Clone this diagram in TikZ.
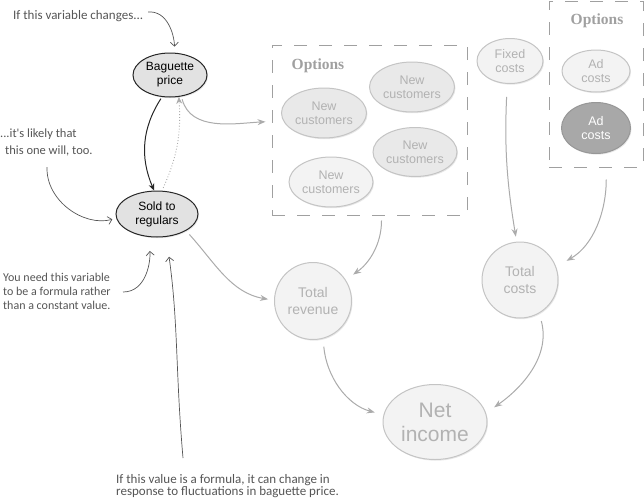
\documentclass[tikz,border=0pt]{standalone}
\usepackage{fontspec}
\setmainfont{Liberation Sans}
\newfontfamily\handfont{Carlito}
\newfontfamily\optfont{Liberation Serif}
\usetikzlibrary{shapes.geometric,arrows.meta,shadows}
\definecolor{nodefill}{HTML}{E9E9E9}
\definecolor{lightfill}{HTML}{F3F3F3}
\definecolor{nodeborder}{HTML}{C4C4C4}
\definecolor{nodetext}{HTML}{B2B2B2}
\definecolor{darkfill}{HTML}{A8A8A8}
\definecolor{mainfill}{HTML}{E2E2E2}
\definecolor{arrowgray}{HTML}{ABABAB}
\definecolor{notegray}{HTML}{555555}
\definecolor{boxgray}{HTML}{A0A0A0}
\begin{document}
\begin{tikzpicture}[x=1pt,y=-1pt,
  softshadow/.style={drop shadow={opacity=0.18, shadow xshift=1pt, shadow yshift=-1.2pt}},
  mainnode/.style={ellipse, draw=black!85, line width=1pt, fill=mainfill, inner sep=0pt,
    align=center, font=\fontsize{12}{14}\selectfont, softshadow},
  graynode/.style={ellipse, draw=nodeborder, line width=1pt, fill=nodefill, text=nodetext, inner sep=0pt,
    align=center, font=\fontsize{12.5}{14}\selectfont, softshadow},
  lightnode/.style={ellipse, draw=nodeborder, line width=1pt, fill=lightfill, text=nodetext, inner sep=0pt,
    align=center, font=\fontsize{12.5}{14}\selectfont, softshadow},
  darknode/.style={ellipse, draw=darkfill!90!black, line width=1pt, fill=darkfill, text=white, inner sep=0pt,
    align=center, font=\fontsize{12.5}{14}\selectfont, softshadow},
  optbox/.style={draw=boxgray, line width=1pt, dash pattern=on 13pt off 12pt, inner sep=0pt},
  optlabel/.style={text=boxgray, font=\optfont\bfseries\fontsize{15.5}{18}\selectfont},
  graylink/.style={draw=arrowgray, line width=1pt, -{Stealth[length=8pt,width=6pt]}},
  notelink/.style={draw=notegray, line width=0.7pt, -{Straight Barb[length=4pt,width=8pt]}},
  note/.style={text=notegray, font=\handfont\fontsize{13}{14}\selectfont, align=left, inner sep=0pt}
]
\useasboundingbox (0,0) rectangle (644,501);

% main nodes
\node[mainnode, minimum width=74pt, minimum height=44pt] (bag) at (170,75) {Baguette\\price};
\node[mainnode, minimum width=82pt, minimum height=46pt] (sold) at (157,214) {Sold to\\regulars};

% options box 1
\node[optbox, minimum width=195pt, minimum height=170pt] (box1) at (369.5,130) {};
\node[optlabel] (opt1) at (318,66) {Options};
\node[graynode, minimum width=85pt, minimum height=50pt] (nc1) at (324,113) {New\\customers};
\node[graynode, minimum width=85pt, minimum height=50pt] (nc2) at (412,87) {New\\customers};
\node[graynode, minimum width=84pt, minimum height=49pt] (nc3) at (415,152) {New\\customers};
\node[lightnode, minimum width=84pt, minimum height=50pt] (nc4) at (331,182) {New\\customers};

% fixed costs and options box 2
\node[lightnode, minimum width=66pt, minimum height=45pt] (fixed) at (510,61) {Fixed\\costs};
\node[optbox, minimum width=94pt, minimum height=166pt] (box2) at (596,84) {};
\node[optlabel] (opt2) at (597,21) {Options};
\node[lightnode, minimum width=68pt, minimum height=42pt] (ad1) at (596,71) {Ad\\costs};
\node[darknode, minimum width=69pt, minimum height=51pt] (ad2) at (596,128) {Ad\\costs};

% totals
\node[lightnode, circle, minimum size=77pt, font=\fontsize{14}{17}\selectfont] (rev) at (313,301) {Total\\revenue};
\node[lightnode, circle, minimum size=76pt, font=\fontsize{14}{17}\selectfont] (tc) at (520,280) {Total\\costs};
\node[lightnode, minimum width=104pt, minimum height=75pt, font=\fontsize{21}{24}\selectfont] (net) at (435,422) {Net\\income};

% connectors between main nodes
\draw[draw=black!85, line width=1pt, -{Stealth[length=7pt,width=6pt]}, shorten <=2pt]
  (bag.250) to[bend right=28] (sold.97);
\draw[draw=arrowgray, line width=0.9pt, dotted, -{Stealth[length=7pt,width=6pt]}, shorten <=3pt]
  (sold.78) to[bend right=14] (bag.292);

% gray links
\draw[graylink, shorten <=3pt, shorten >=6pt] (bag.298) to[out=-75, in=183] (box1.175);
\draw[graylink, shorten <=5pt, shorten >=9pt] (box1.-82) to[out=-90, in=35] (rev.33);
\draw[graylink, shorten <=5pt, shorten >=6pt] (sold.-30) to[out=-48, in=170] (rev.179);
\draw[graylink, shorten <=13pt, shorten >=5pt] (fixed.-97) to[bend right=6] (tc.95);
\draw[graylink, shorten <=12pt, shorten >=12pt] (box2.-83) to[out=-90, in=30] (tc.20);
\draw[graylink, shorten <=8pt, shorten >=9pt] (rev.-75) to[out=-85, in=165] (net.172);
\draw[graylink, shorten <=8pt, shorten >=10pt] (tc.-60) to[out=-75, in=35] (net.10);

% annotations
\node[note, anchor=west] (n1) at (13,16) {If this variable changes...};
\coordinate (n1e) at (148,12);
\draw[notelink, shorten >=6pt] (n1e) to[out=5, in=92] (bag.78);

\node[note, anchor=north west, font=\handfont\fontsize{12.5}{17}\selectfont] (n2) at (0,129)
  {...it's likely that\\\hspace*{5pt}this one will, too.};
\coordinate (n2s) at (47,167);
\draw[notelink, shorten >=4pt] (n2s) to[out=-92, in=195] (sold.186);

\node[note, anchor=north west, font=\handfont\fontsize{12}{14}\selectfont] (n3) at (3,273)
  {You need this variable\\to be a formula rather\\than a constant value.};
\coordinate (n3s) at (123,292);
\draw[notelink, shorten >=14pt] (n3s) to[out=0, in=-85] (sold.250);

\node[note, anchor=north west, font=\handfont\fontsize{13}{12}\selectfont] (n4) at (116,474)
  {If this value is a formula, it can change in\\response to fluctuations in baguette price.};
\coordinate (n4s) at (183,458);
\draw[notelink, shorten >=20pt] (n4s) to[out=95, in=-82] (sold.292);
\end{tikzpicture}
\end{document}
